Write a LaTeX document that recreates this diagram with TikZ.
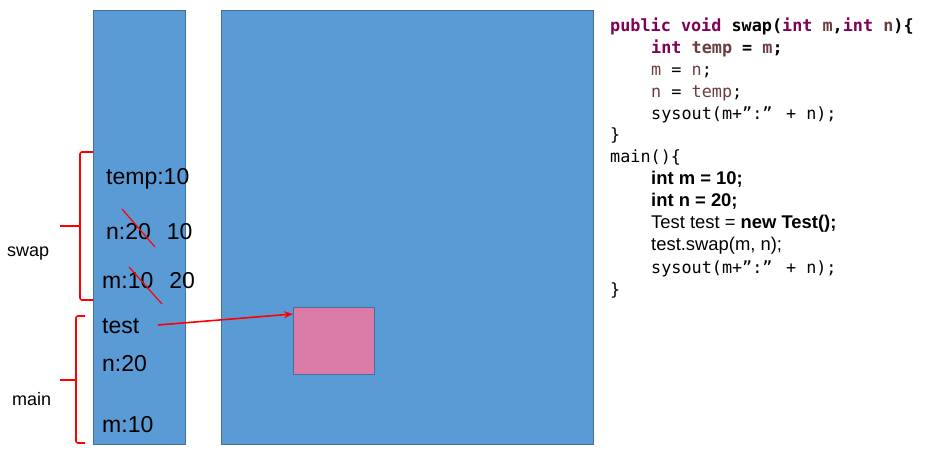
\documentclass[tikz,border=0pt]{standalone}
\usepackage{fontspec}
\setmainfont{Liberation Sans}
\newfontfamily\codefont{DejaVu Sans Mono}
\usetikzlibrary{arrows.meta}
\definecolor{stackblue}{HTML}{5B9BD5}
\definecolor{stackedge}{HTML}{41719C}
\definecolor{heappink}{HTML}{DB7BA7}
\definecolor{kw}{HTML}{7F0055}
\definecolor{var}{HTML}{6A3E3E}
\tikzset{
  memblock/.style={fill=stackblue, draw=stackedge, line width=0.8pt},
  objblock/.style={fill=heappink, draw=stackedge, line width=0.8pt},
  bigtxt/.style={anchor=base west, inner sep=0pt, font=\fontsize{23}{26}\selectfont},
  lbl/.style={anchor=base west, inner sep=0pt, font=\fontsize{18}{20}\selectfont},
  codeline/.style={anchor=base west, inner sep=0pt, font=\codefont\fontsize{16.8}{20}\selectfont},
  sansline/.style={anchor=base west, inner sep=0pt, font=\fontsize{18.4}{20}\selectfont},
  redline/.style={red, line width=1.6pt},
  bracel/.style={red, line width=1.6pt, rounded corners=2pt},
}
\begin{document}
\begin{tikzpicture}[x=1pt,y=-1pt]
\useasboundingbox (0,0) rectangle (926,462);
% stack column and heap
\draw[memblock] (93,10) rectangle (185,444);
\draw[memblock] (221,10) rectangle (593,444);
\node[objblock, minimum width=81pt, minimum height=67pt, inner sep=0pt, anchor=north west] (obj) at (293,307) {};
% stack texts
\node[bigtxt] (temp) at (106,185) {temp:10};
\node[bigtxt] (sn) at (106,240) {n:20\hspace{16pt}10};
\node[bigtxt] (sm) at (102,289) {m:10\hspace{16pt}20};
\node[bigtxt] (test) at (102,334) {test};
\node[bigtxt] (mn) at (102,371) {n:20};
\node[bigtxt] (mm) at (102,432) {m:10};
% strike-outs
\coordinate (s1a) at (122,209); \coordinate (s1b) at (155,247);
\coordinate (s2a) at (129,267); \coordinate (s2b) at (162,304);
\draw[redline, line width=1.2pt] (s1a) -- (s1b);
\draw[redline, line width=1.2pt] (s2a) -- (s2b);
% reference arrow
\coordinate (tref) at (158,325);
\draw[redline, -{Stealth[length=9pt,width=7pt]}] (tref) -- (obj.north west |- 0,314);
% braces
\coordinate (swapmid) at (60,226);
\draw[bracel] (93,152) -- (80,152) -- (80,300) -- (93,300);
\draw[redline] (80,226) -- (swapmid);
\coordinate (mainmid) at (60,380);
\draw[bracel] (85,316) -- (76,316) -- (76,443) -- (85,443);
\draw[redline] (76,380) -- (mainmid);
\node[lbl] (swaplbl) at (7,257) {swap};
\node[lbl] (mainlbl) at (12,405) {main};
% code
\node[codeline] (c1) at (610,32) {\bfseries{\color{kw}public void }swap({\color{kw}int }{\color{var}m},{\color{kw}int }{\color{var}n})\{};
\node[codeline] (c2) at (651,54) {\bfseries{\color{kw}int }{\color{var}temp} = {\color{var}m};};
\node[codeline] (c3) at (651,76) {{\color{var}m} = {\color{var}n};};
\node[codeline] (c4) at (651,98) {{\color{var}n} = {\color{var}temp};};
\node[codeline] (c5) at (651,120) {sysout(m+”:” + n);};
\node[codeline] (c6) at (610,141) {\}};
\node[codeline] (c7) at (610,163) {main()\{};
\node[sansline] (c8) at (651,185) {\bfseries int m = 10;};
\node[sansline] (c9) at (651,207) {\bfseries int n = 20;};
\node[sansline] (c10) at (651,229) {Test test = \textbf{new Test();}};
\node[sansline] (c11) at (651,251) {test.swap(m, n);};
\node[codeline] (c12) at (651,273) {sysout(m+”:” + n);};
\node[codeline] (c13) at (610,295) {\}};
\end{tikzpicture}
\end{document}
